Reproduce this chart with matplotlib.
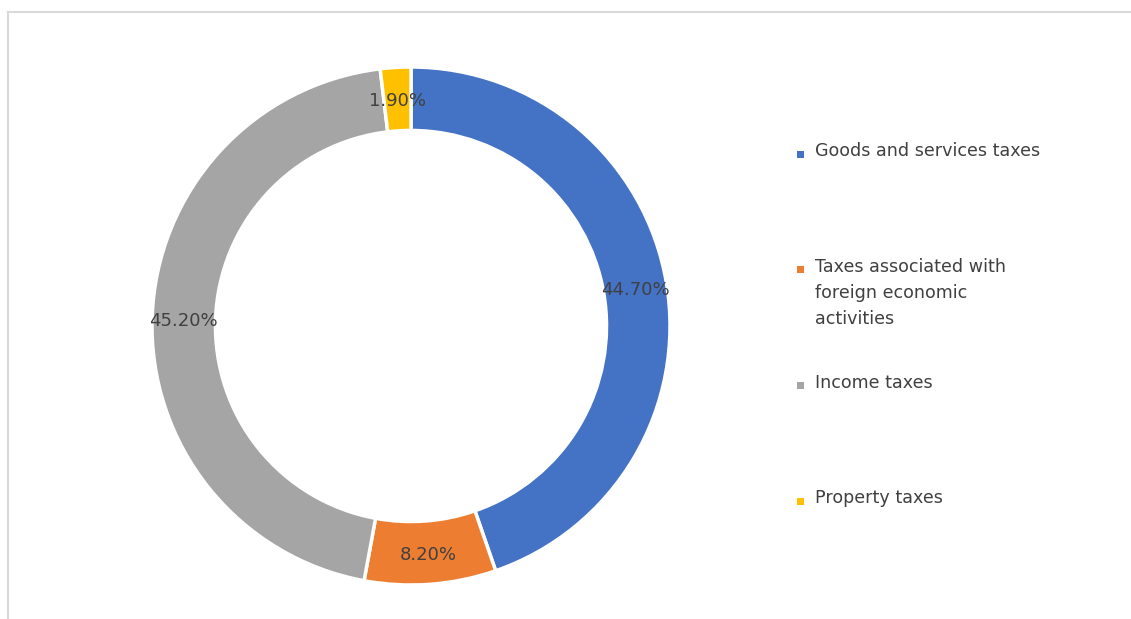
import matplotlib
matplotlib.use('Agg')
import matplotlib.pyplot as plt
from matplotlib.patches import Rectangle
from matplotlib.lines import Line2D

# tax revenue structure, percent
categories = ['Goods and services taxes',
              'Taxes associated with\nforeign economic\nactivities',
              'Income taxes',
              'Property taxes']
shares = [44.7, 8.2, 45.2, 1.9]
colors = ['#4472C4', '#ED7D31', '#A5A5A5', '#FFC000']

TXT = '#404040'
W, H = 1131, 619

fig = plt.figure(figsize=(W / 100, H / 100), dpi=100)

# light frame (cropped on right and bottom)
fig.add_artist(Line2D([8 / W, 1], [1 - 12 / H, 1 - 12 / H], color='#d9d9d9', lw=1.5))
fig.add_artist(Line2D([8 / W, 8 / W], [0, 1 - 12 / H], color='#d9d9d9', lw=1.5))

cx, cy, R = 411, 326, 259
ax = fig.add_axes([(cx - R) / W, (H - cy - R) / H, 2 * R / W, 2 * R / H])
wedges, _, autotexts = ax.pie(
    shares, colors=colors, startangle=90, counterclock=False, radius=1.0,
    autopct='%.2f%%', pctdistance=0.878,
    wedgeprops=dict(width=0.245, edgecolor='white', linewidth=2.5),
    textprops=dict(color=TXT, fontsize=13))
for t in autotexts:
    t.set_va('center_baseline')
ax.set_xlim(-1, 1)
ax.set_ylim(-1, 1)
ax.set_aspect('equal')
ax.axis('off')

# legend, entries top-aligned with equal spacing
y0, step = 154, 115.5
for i, (lab, col) in enumerate(zip(categories, colors)):
    y = y0 + i * step
    fig.add_artist(Rectangle(((797) / W, 1 - (y + 4) / H), 7 / W, 7 / H,
                             facecolor=col, edgecolor='none'))
    fig.text(815 / W, 1 - (y - 11.5) / H, lab, color=TXT, fontsize=12.6,
             va='top', ha='left', linespacing=1.58)

fig.savefig('out.png', dpi=100)
